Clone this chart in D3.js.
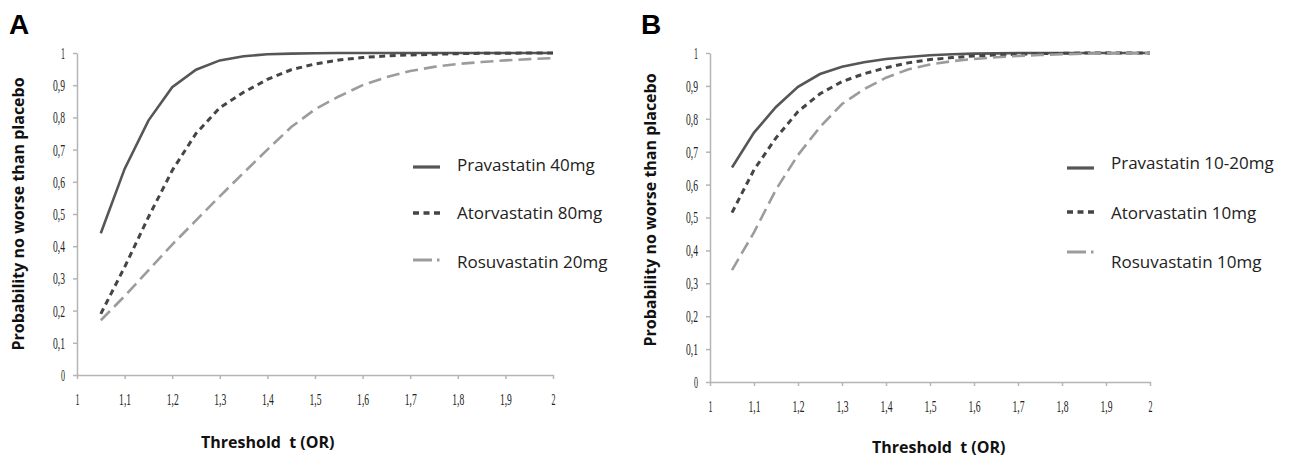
<!DOCTYPE html>
<meta charset="utf-8">
<style>
body { margin: 0; background: #fff; }
.tick text { font-family: "Liberation Serif", serif; font-size: 17px; fill: #222; }
.axis path, .axis line { stroke: #b5b5b5; stroke-width: 1.5px; }
.ttl { font-family: "Open Sans", sans-serif; font-weight: bold; font-size: 16px; fill: #111; }
.leg { font-family: "Open Sans", sans-serif; font-size: 17px; fill: #222; }
.panel { font-family: "Liberation Sans", Arial, sans-serif; font-weight: bold; font-size: 28px; fill: #000; }
</style>
<svg width="1298" height="459"></svg>
<script src="https://cdnjs.cloudflare.com/ajax/libs/d3/7.8.5/d3.min.js"></script>
<script>

// threshold values (OR)
var thresholds = [1.05, 1.1, 1.15, 1.2, 1.25, 1.3, 1.35, 1.4, 1.45, 1.5,
                  1.55, 1.6, 1.65, 1.7, 1.75, 1.8, 1.85, 1.9, 1.95, 2.0];
var xTicks = [1, 1.1, 1.2, 1.3, 1.4, 1.5, 1.6, 1.7, 1.8, 1.9, 2];
var yTicks = [0, 0.1, 0.2, 0.3, 0.4, 0.5, 0.6, 0.7, 0.8, 0.9, 1];

// panel A
var namesA = ["Pravastatin 40mg", "Atorvastatin 80mg", "Rosuvastatin 20mg"];
var pravaA = [0.44, 0.64, 0.79, 0.894, 0.948, 0.977, 0.99, 0.996, 0.998, 0.999,
              1, 1, 1, 1, 1, 1, 1, 1, 1, 1];
var atorvaA = [0.19, 0.335, 0.49, 0.635, 0.75, 0.83, 0.878, 0.918, 0.948, 0.966,
               0.978, 0.986, 0.991, 0.994, 0.996, 0.998, 0.999, 0.999, 1, 1];
var rosuvaA = [0.17, 0.245, 0.325, 0.405, 0.48, 0.555, 0.628, 0.7, 0.77, 0.825,
               0.865, 0.9, 0.925, 0.944, 0.957, 0.966, 0.972, 0.977, 0.981, 0.984];

// panel B
var namesB = ["Pravastatin 10-20mg", "Atorvastatin 10mg", "Rosuvastatin 10mg"];
var pravaB = [0.652, 0.758, 0.836, 0.897, 0.936, 0.958, 0.972, 0.982, 0.988, 0.993,
              0.996, 0.998, 0.999, 1, 1, 1, 1, 1, 1, 1];
var atorvaB = [0.515, 0.645, 0.742, 0.822, 0.876, 0.913, 0.937, 0.955, 0.97, 0.98,
               0.986, 0.991, 0.994, 0.996, 0.998, 0.999, 1, 1, 1, 1];
var rosuvaB = [0.34, 0.455, 0.585, 0.69, 0.775, 0.845, 0.89, 0.925, 0.95, 0.965,
               0.975, 0.982, 0.987, 0.991, 0.994, 0.996, 0.998, 0.999, 0.999, 1];

var styles = [
  {color: "#565656", width: 2.6, dash: null},
  {color: "#454545", width: 3, dash: "6,4.5"},
  {color: "#9c9c9c", width: 2.6, dash: "13,6"}
];

var svg = d3.select("svg");

function fmt(d) { return String(d).replace(".", ","); }

function panel(cfg) {
  var x = d3.scaleLinear().domain([1, 2]).range([cfg.x0, cfg.x1]);
  var y = d3.scaleLinear().domain([0, 1]).range([cfg.y0, cfg.y1]);
  var g = svg.append("g");

  g.append("g").attr("class", "axis")
      .attr("transform", "translate(0," + cfg.y0 + ")")
      .call(d3.axisBottom(x).tickValues(xTicks).tickFormat(fmt).tickSizeInner(4).tickSizeOuter(0).tickPadding(cfg.xpad));
  g.append("g").attr("class", "axis")
      .attr("transform", "translate(" + cfg.x0 + ",0)")
      .call(d3.axisLeft(y).tickValues(yTicks).tickFormat(fmt).tickSizeInner(4).tickSizeOuter(0).tickPadding(8));
  g.selectAll(".tick text")
      .attr("textLength", function(d) { return fmt(d).length * 4; })
      .attr("lengthAdjust", "spacingAndGlyphs");

  var line = d3.line()
      .x(function(d, i) { return x(thresholds[i]); })
      .y(function(d) { return y(d); });

  cfg.series.forEach(function(s, i) {
    g.append("path")
        .datum(s)
        .attr("fill", "none")
        .attr("stroke", styles[i].color)
        .attr("stroke-width", styles[i].width)
        .attr("stroke-dasharray", styles[i].dash)
        .attr("d", line);
  });

  // legend
  cfg.names.forEach(function(n, i) {
    g.append("line")
        .attr("x1", cfg.lx).attr("x2", cfg.lx + 27)
        .attr("y1", cfg.ly[i]).attr("y2", cfg.ly[i])
        .attr("stroke", styles[i].color)
        .attr("stroke-width", styles[i].width + 0.6)
        .attr("stroke-dasharray", i == 2 ? "19,5,2.5,5" : styles[i].dash);
    g.append("text").attr("class", "leg")
        .attr("x", cfg.lx + 44).attr("y", cfg.ty[i])
        .attr("dy", "0.35em")
        .text(n);
  });

  g.append("text").attr("class", "ttl")
      .attr("x", cfg.tx).attr("y", cfg.tyy)
      .attr("xml:space", "preserve")
      .text("Threshold  t (OR)");
  g.append("text").attr("class", "ttl")
      .attr("transform", "translate(" + cfg.yx + "," + cfg.yy + ") rotate(-90)")
      .attr("text-anchor", "middle")
      .text("Probability no worse than placebo");
  g.append("text").attr("class", "panel")
      .attr("x", cfg.px).attr("y", 34)
      .text(cfg.label);
}

panel({
  label: "A", px: 9,
  x0: 77, x1: 553, y0: 375, y1: 53, xpad: 14,
  series: [pravaA, atorvaA, rosuvaA], names: namesA,
  lx: 413, ly: [167, 213, 260], ty: [165, 213, 262],
  tx: 201, tyy: 448, yx: 24, yy: 214
});

panel({
  label: "B", px: 641,
  x0: 710, x1: 1150, y0: 382, y1: 53, xpad: 14,
  series: [pravaB, atorvaB, rosuvaB], names: namesB,
  lx: 1067, ly: [168, 212, 252], ty: [163, 213, 262],
  tx: 872, tyy: 453, yx: 656, yy: 210
});

</script>
